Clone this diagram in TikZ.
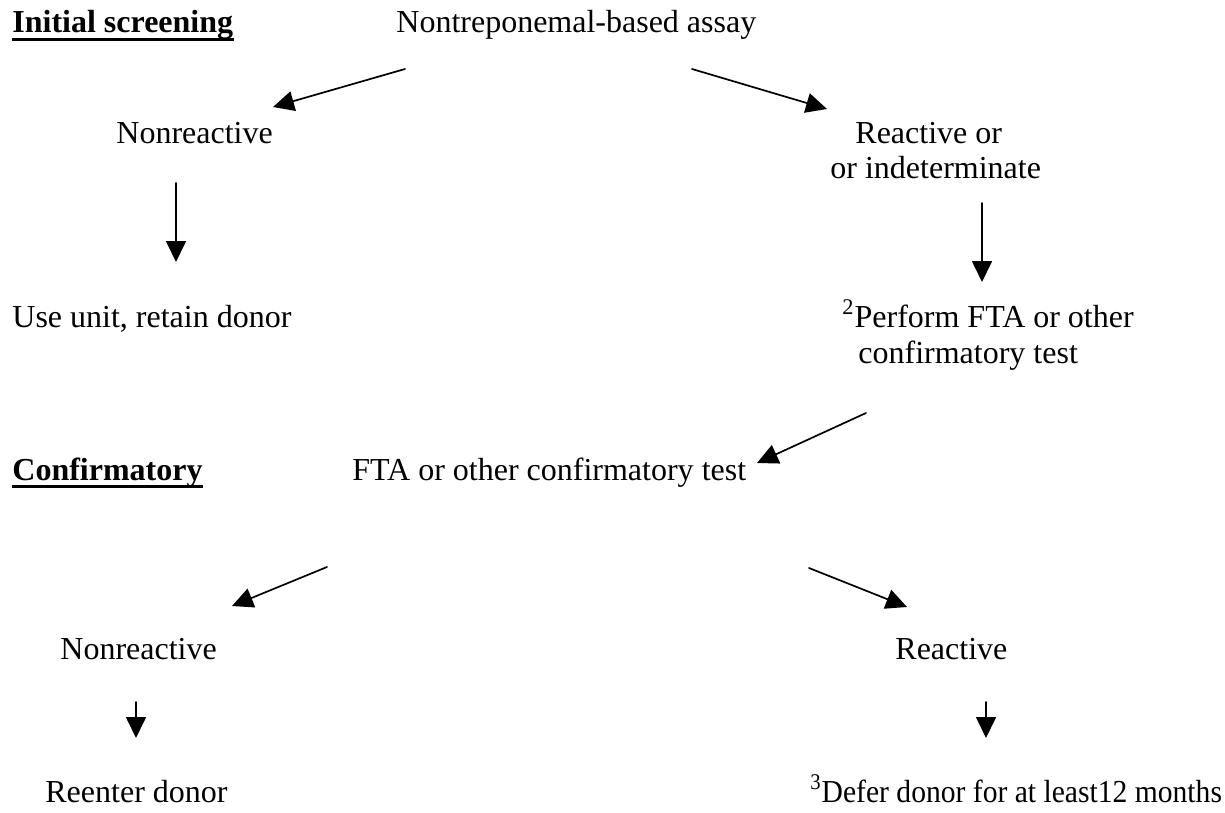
\documentclass[tikz,border=0pt]{standalone}
\usepackage{fontspec}
\setmainfont{Liberation Serif}
\usetikzlibrary{arrows.meta}

\begin{document}
\begin{tikzpicture}[line cap=round,line join=round,>={Triangle[length=10.5pt,width=10pt]},x=0.5pt,y=-0.5pt,
  txt/.style={anchor=base west,inner sep=0pt,font=\fontsize{16}{19}\selectfont},
  head/.style={txt,font=\fontsize{16}{19}\selectfont\bfseries},
  arr/.style={->,line width=0.85pt}]
\useasboundingbox (0,0) rectangle (1225,813);

%initial screening
\node [head] (init) at (12,33) {Initial screening};
\draw [line width=1.6pt,line cap=butt] ([yshift=-3.4pt]init.base west) -- ([yshift=-3.4pt]init.base east);
\node [txt] (assay) at (396,33) {Nontreponemal-based assay};
\node [txt] (nonr1) at (116,143) {Nonreactive};
\node [txt] (react1) at (855,143) {Reactive or};
\node [txt] (react1b) at (830,178) {or indeterminate};
\node [txt] (use) at (12,327) {Use unit, retain donor};
\node [txt] (perf) at (842,327) {\textsuperscript{2}Perform FTA or other};
\node [txt] (perfb) at (858,363) {confirmatory test};

%confirmatory
\node [head] (conf) at (12,480) {Confirmatory};
\draw [line width=1.6pt,line cap=butt] ([yshift=-3.4pt]conf.base west) -- ([yshift=-3.4pt]conf.base east);
\node [txt] (fta) at (352,480) {FTA or other confirmatory test};
\node [txt] (nonr2) at (60,659) {Nonreactive};
\node [txt] (react2) at (895,659) {Reactive};
\node [txt] (reenter) at (45,802) {Reenter donor};
\node [txt] (defer) at (810,802) {\scalebox{0.925}[1]{\textsuperscript{3}Defer donor for at least12 months}};

%nuolet
\coordinate (a1) at (405,69);  \coordinate (b1) at (273,107);
\coordinate (a2) at (692,69);  \coordinate (b2) at (827,109);
\coordinate (a3) at (176,183); \coordinate (b3) at (176,262);
\coordinate (a4) at (982,203); \coordinate (b4) at (982,282);
\coordinate (a5) at (866,413); \coordinate (b5) at (757,463);
\coordinate (a6) at (327,567); \coordinate (b6) at (232,606);
\coordinate (a7) at (809,568); \coordinate (b7) at (907,607);
\coordinate (a8) at (136,702); \coordinate (b8) at (136,738);
\coordinate (a9) at (986,702); \coordinate (b9) at (986,738);
\foreach \i in {1,...,9}
{
\draw [arr] (a\i) -- (b\i);
}
\end{tikzpicture}
\end{document}
